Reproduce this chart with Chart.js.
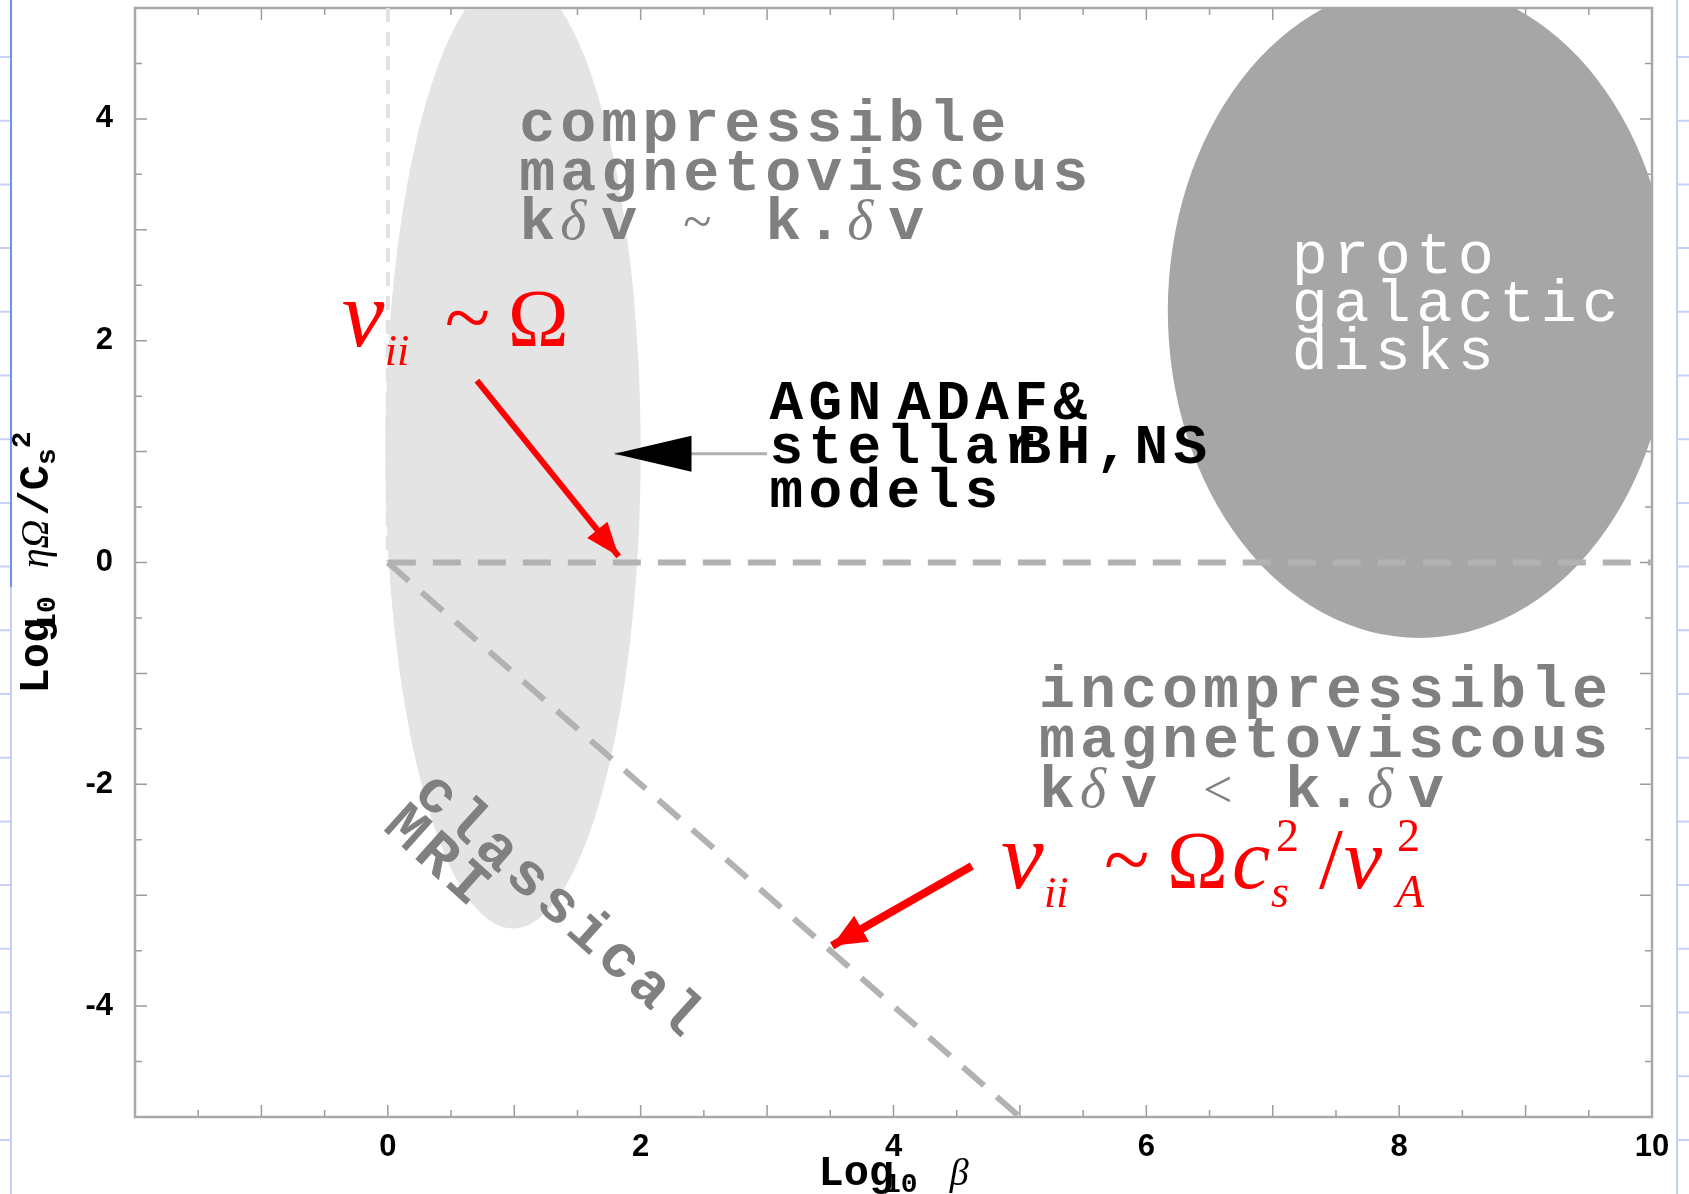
<!DOCTYPE html>
<html lang="en">
<head>
<meta charset="UTF-8">
<title>Magnetoviscous regimes</title>
<script src="https://cdn.jsdelivr.net/npm/chart.js"></script>
<style>
    body { margin: 0; background: #fff; }
    .chart-container { position: relative; width: 1689px; height: 1194px; }
</style>
</head>
<body>
<div class="chart-container"><canvas id="regimeChart"></canvas></div>
<script>
// axes: Log10 beta (x), Log10 eta*Omega/cs^2 (y)
const xMin = -2, xMax = 10;
const yMin = -5, yMax = 5;
const xTickLabels = [0, 2, 4, 6, 8, 10];
const yTickLabels = [-4, -2, 0, 2, 4];

// boundary lines
const betaOneLine = [{x: 0, y: 5}, {x: 0, y: 0}];
const collisionLine = [{x: 0, y: 0}, {x: 10, y: 0}];
const classicalLine = [{x: 0, y: 0}, {x: 5, y: -5}];

// regions: centre and half axes, data units
const mriRegion = {cx: 0.99, cy: 1.0, rx: 1.01, ry: 4.3};
const protoRegion = {cx: 8.16, cy: 2.27, rx: 1.99, ry: 2.95};

// arrows (start -> tip)
const omegaArrow = [{x: 0.705, y: 1.64}, {x: 1.826, y: 0.056}];
const alfvenArrow = [{x: 4.62, y: -2.737}, {x: 3.514, y: -3.455}];
const agnArrow = [{x: 3.0, y: 0.98}, {x: 1.793, y: 0.98}];

// label texts
const compressibleLines = ["compressible", "magnetoviscous", "kδv ~ k.δv"];
const incompressibleLines = ["incompressible", "magnetoviscous", "kδv < k.δv"];
const protoLines = ["proto", "galactic", "disks"];
const mriLines = ["classical", "MRI"];
const agnLines = [["AGN", "ADAF&"], ["stellar", "BH,NS"], ["models"]];

const MONO = "'Liberation Mono', 'DejaVu Sans Mono', monospace";
const SERIF = "'Liberation Serif', 'DejaVu Serif', serif";
const SANS = "'Liberation Sans', Arial, sans-serif";

const regionStyles = [
    {region: mriRegion, color: "#e4e4e4"},
    {region: protoRegion, color: "#a6a6a6"}
];

const blockLabels = [
    {lines: compressibleLines, x: 1.04, y: 3.80, lead: 49, adv: 41, color: "#808080", font: "bold 60px " + MONO},
    {lines: incompressibleLines, x: 5.15, y: -1.30, lead: 50, adv: 41, color: "#808080", font: "bold 60px " + MONO},
    {lines: protoLines, x: 7.15, y: 2.61, lead: 48, adv: 41.5, color: "#ffffff", font: "60px " + MONO},
    {lines: mriLines, x: 0.19, y: -2.10, lead: 45, adv: 41, color: "#808080", font: "bold 60px " + MONO, angle: 42}
];
const agnLayout = {x: [[3.02, 4.03], [3.02, 4.98], [3.02]], y: 1.29, lead: 44, adv: 39};

// red formulas: glyph runs relative to the anchor
const nuOmegaRuns = [
    {t: "ν", dx: 0, dy: 0, font: "italic 96px "},
    {t: "ii", dx: 43, dy: 19, font: "italic 44px "},
    {t: "~", dx: 103, dy: 0, font: "84px "},
    {t: "Ω", dx: 166, dy: 0, font: "82px "}
];
const nuAlfvenRuns = nuOmegaRuns.concat([
    {t: "c", dx: 231, dy: 0, font: "italic 86px "},
    {t: "s", dx: 270, dy: 19, font: "italic 46px "},
    {t: "2", dx: 275, dy: -37, font: "46px "},
    {t: "/", dx: 318, dy: 0, font: "86px "},
    {t: "v", dx: 343, dy: 0, font: "italic 86px "},
    {t: "A", dx: 395, dy: 19, font: "italic 46px "},
    {t: "2", dx: 396, dy: -37, font: "46px "}
]);
const formulas = [
    {runs: nuOmegaRuns, x: -0.364, y: 1.95},
    {runs: nuAlfvenRuns, x: 4.85, y: -2.935}
];

const xTitleRuns = [
    {t: "Log", font: "bold 42px " + MONO, dy: 0, gap: 0},
    {t: "10", font: "bold 28px " + MONO, dy: 7, gap: -10},
    {t: "β", font: "italic 38px " + SERIF, dy: 0, gap: 32}
];
const yTitleRuns = [
    {t: "Log", font: "bold 42px " + MONO, dy: 0, gap: 0},
    {t: "10", font: "bold 28px " + MONO, dy: 7, gap: -12},
    {t: "ηΩ", font: "italic 40px " + SERIF, dy: 0, gap: 28},
    {t: "/C", font: "bold 42px " + MONO, dy: 0, gap: 4},
    {t: "s", font: "bold 28px " + MONO, dy: 7, gap: 0},
    {t: "2", font: "bold 28px " + MONO, dy: -18, gap: 0}
];

const specialGlyphs = {"δ": "italic 56px " + SERIF, "~": "52px " + SERIF, "<": "52px " + SERIF};

function drawCells(ctx, str, x0, y0, adv, font) {
    [...str].forEach((ch, i) => {
        ctx.font = specialGlyphs[ch] || font;
        ctx.fillText(ch, x0 + i * adv, y0);
    });
}

function drawRuns(ctx, runs, x0, y0) {
    let cx = x0;
    runs.forEach(r => {
        ctx.font = r.font;
        cx += r.gap;
        ctx.fillText(r.t, cx, y0 + r.dy);
        cx += ctx.measureText(r.t).width;
    });
}

function runsWidth(ctx, runs) {
    let w = 0;
    runs.forEach(r => { ctx.font = r.font; w += r.gap + ctx.measureText(r.t).width; });
    return w;
}

// slide background (notebook lines on both sides)
const backdrop = {
    id: "backdrop",
    beforeDraw(chart) {
        const {ctx, width, height} = chart;
        ctx.save();
        ctx.fillStyle = "#ffffff";
        ctx.fillRect(0, 0, width, height);
        ctx.strokeStyle = "#c6d1f7";
        ctx.lineWidth = 2;
        for (let yy = 57; yy < height; yy += 63.7) {
            ctx.beginPath();
            ctx.moveTo(0, yy); ctx.lineTo(11, yy);
            ctx.moveTo(width - 12, yy); ctx.lineTo(width, yy);
            ctx.stroke();
        }
        ctx.beginPath();
        ctx.moveTo(11, 587); ctx.lineTo(11, height);
        ctx.moveTo(width - 12, 0); ctx.lineTo(width - 12, height);
        ctx.stroke();
        ctx.strokeStyle = "#7090f0";
        ctx.beginPath();
        ctx.moveTo(11, 0); ctx.lineTo(11, 587);
        ctx.stroke();
        ctx.restore();
    }
};

// frame with inward ticks on all four sides, then the shaded regions
const frameAndRegions = {
    id: "frameAndRegions",
    beforeDatasetsDraw(chart) {
        const {ctx, chartArea: a, scales: {x, y}} = chart;
        ctx.save();
        ctx.strokeStyle = "#9c9c9c";
        ctx.lineWidth = 1.5;
        x.ticks.forEach(t => {
            const px = x.getPixelForValue(t.value);
            const len = Number.isInteger(t.value) ? 12 : 7;
            ctx.beginPath();
            ctx.moveTo(px, a.bottom); ctx.lineTo(px, a.bottom - len);
            ctx.moveTo(px, a.top); ctx.lineTo(px, a.top + len);
            ctx.stroke();
        });
        y.ticks.forEach(t => {
            const py = y.getPixelForValue(t.value);
            const len = Number.isInteger(t.value) ? 12 : 7;
            ctx.beginPath();
            ctx.moveTo(a.left, py); ctx.lineTo(a.left + len, py);
            ctx.moveTo(a.right, py); ctx.lineTo(a.right - len, py);
            ctx.stroke();
        });
        ctx.strokeStyle = "#a8a8a8";
        ctx.lineWidth = 2.5;
        ctx.strokeRect(a.left, a.top, a.width, a.height);

        ctx.beginPath();
        ctx.rect(a.left + 1, a.top + 1, a.width - 2, a.height - 2);
        ctx.clip();
        regionStyles.forEach(({region, color}) => {
            const px = x.getPixelForValue(region.cx);
            const py = y.getPixelForValue(region.cy);
            const rx = Math.abs(x.getPixelForValue(region.cx + region.rx) - px);
            const ry = Math.abs(y.getPixelForValue(region.cy + region.ry) - py);
            ctx.beginPath();
            ctx.ellipse(px, py, rx, ry, 0, 0, 2 * Math.PI);
            ctx.fillStyle = color;
            ctx.fill();
        });
        ctx.restore();
    }
};

// arrowheads, region labels, formulas and axis titles
const annotate = {
    id: "annotate",
    afterDatasetsDraw(chart) {
        const {ctx, chartArea: a, scales: {x, y}} = chart;
        ctx.save();
        chart.data.datasets.forEach((ds, i) => {
            if (!ds.arrowHead) return;
            const pts = chart.getDatasetMeta(i).data;
            const p0 = pts[pts.length - 2], p1 = pts[pts.length - 1];
            const ang = Math.atan2(p1.y - p0.y, p1.x - p0.x);
            const {length, halfWidth, color} = ds.arrowHead;
            ctx.save();
            ctx.translate(p1.x, p1.y);
            ctx.rotate(ang);
            ctx.beginPath();
            ctx.moveTo(0, 0);
            ctx.lineTo(-length, -halfWidth);
            ctx.lineTo(-length, halfWidth);
            ctx.closePath();
            ctx.fillStyle = color;
            ctx.fill();
            ctx.restore();
        });

        ctx.textBaseline = "alphabetic";
        ctx.textAlign = "left";
        blockLabels.forEach(b => {
            ctx.save();
            ctx.fillStyle = b.color;
            ctx.translate(x.getPixelForValue(b.x), y.getPixelForValue(b.y));
            if (b.angle) ctx.rotate(b.angle * Math.PI / 180);
            b.lines.forEach((line, k) => drawCells(ctx, line, 0, k * b.lead, b.adv, b.font));
            ctx.restore();
        });

        ctx.fillStyle = "#000000";
        const y0 = y.getPixelForValue(agnLayout.y);
        agnLines.forEach((segs, k) => {
            segs.forEach((seg, j) => {
                drawCells(ctx, seg, x.getPixelForValue(agnLayout.x[k][j]), y0 + k * agnLayout.lead,
                    agnLayout.adv, "bold 56px " + MONO);
            });
        });

        ctx.fillStyle = "#ff0000";
        formulas.forEach(f => {
            const fx = x.getPixelForValue(f.x), fy = y.getPixelForValue(f.y);
            f.runs.forEach(r => {
                ctx.font = r.font + SERIF;
                ctx.fillText(r.t, fx + r.dx, fy + r.dy);
            });
        });

        // axis titles
        ctx.fillStyle = "#000000";
        const xw = runsWidth(ctx, xTitleRuns);
        drawRuns(ctx, xTitleRuns, (a.left + a.right) / 2 - xw / 2, 1185);
        const yw = runsWidth(ctx, yTitleRuns);
        ctx.save();
        ctx.translate(48, (a.top + a.bottom) / 2);
        ctx.rotate(-Math.PI / 2);
        drawRuns(ctx, yTitleRuns, -yw / 2, 0);
        ctx.restore();
        ctx.restore();
    }
};

const lineStyle = {showLine: true, pointRadius: 0, fill: false};

new Chart(document.getElementById("regimeChart"), {
    type: "scatter",
    data: {
        datasets: [
            {...lineStyle, label: "ν_ii ~ Ω arrow", data: omegaArrow, borderColor: "#ff0000", borderWidth: 6,
                arrowHead: {length: 34, halfWidth: 13, color: "#ff0000"}},
            {...lineStyle, label: "ν_ii ~ Ωc_s²/v_A² arrow", data: alfvenArrow, borderColor: "#ff0000", borderWidth: 8,
                arrowHead: {length: 34, halfWidth: 15, color: "#ff0000"}},
            {...lineStyle, label: "AGN arrow", data: agnArrow, borderColor: "#b0b0b0", borderWidth: 3,
                arrowHead: {length: 77, halfWidth: 18, color: "#000000"}},
            {...lineStyle, label: "y = 0", data: collisionLine, borderColor: "#b2b2b2", borderWidth: 6, borderDash: [28, 17]},
            {...lineStyle, label: "y = -x", data: classicalLine, borderColor: "#b2b2b2", borderWidth: 6, borderDash: [28, 17]},
            {...lineStyle, label: "β = 1", data: betaOneLine, borderColor: "#e2e2e2", borderWidth: 4, borderDash: [14, 10]}
        ]
    },
    options: {
        responsive: true,
        maintainAspectRatio: false,
        animation: false,
        events: [],
        layout: {padding: {left: 0, right: 37, top: 8, bottom: 0}},
        plugins: {
            legend: {display: false},
            tooltip: {enabled: false}
        },
        scales: {
            x: {
                type: "linear",
                min: xMin,
                max: xMax,
                grid: {display: false, drawTicks: false},
                border: {display: false},
                ticks: {
                    stepSize: 0.5,
                    autoSkip: false,
                    maxRotation: 0,
                    padding: 12,
                    color: "#000000",
                    font: {family: SANS, size: 31, weight: "bold"},
                    callback: v => xTickLabels.includes(v) ? String(v) : ""
                },
                afterFit: s => { s.height = 77; s.paddingLeft = 0; s.paddingRight = 0; }
            },
            y: {
                type: "linear",
                min: yMin,
                max: yMax,
                grid: {display: false, drawTicks: false},
                border: {display: false},
                ticks: {
                    stepSize: 0.5,
                    autoSkip: false,
                    padding: 22,
                    color: "#000000",
                    font: {family: SANS, size: 31, weight: "bold"},
                    callback: v => yTickLabels.includes(v) ? String(v) : ""
                },
                afterFit: s => { s.width = 135; s.paddingTop = 0; s.paddingBottom = 0; }
            }
        }
    },
    plugins: [backdrop, frameAndRegions, annotate]
});
</script>
</body>
</html>
